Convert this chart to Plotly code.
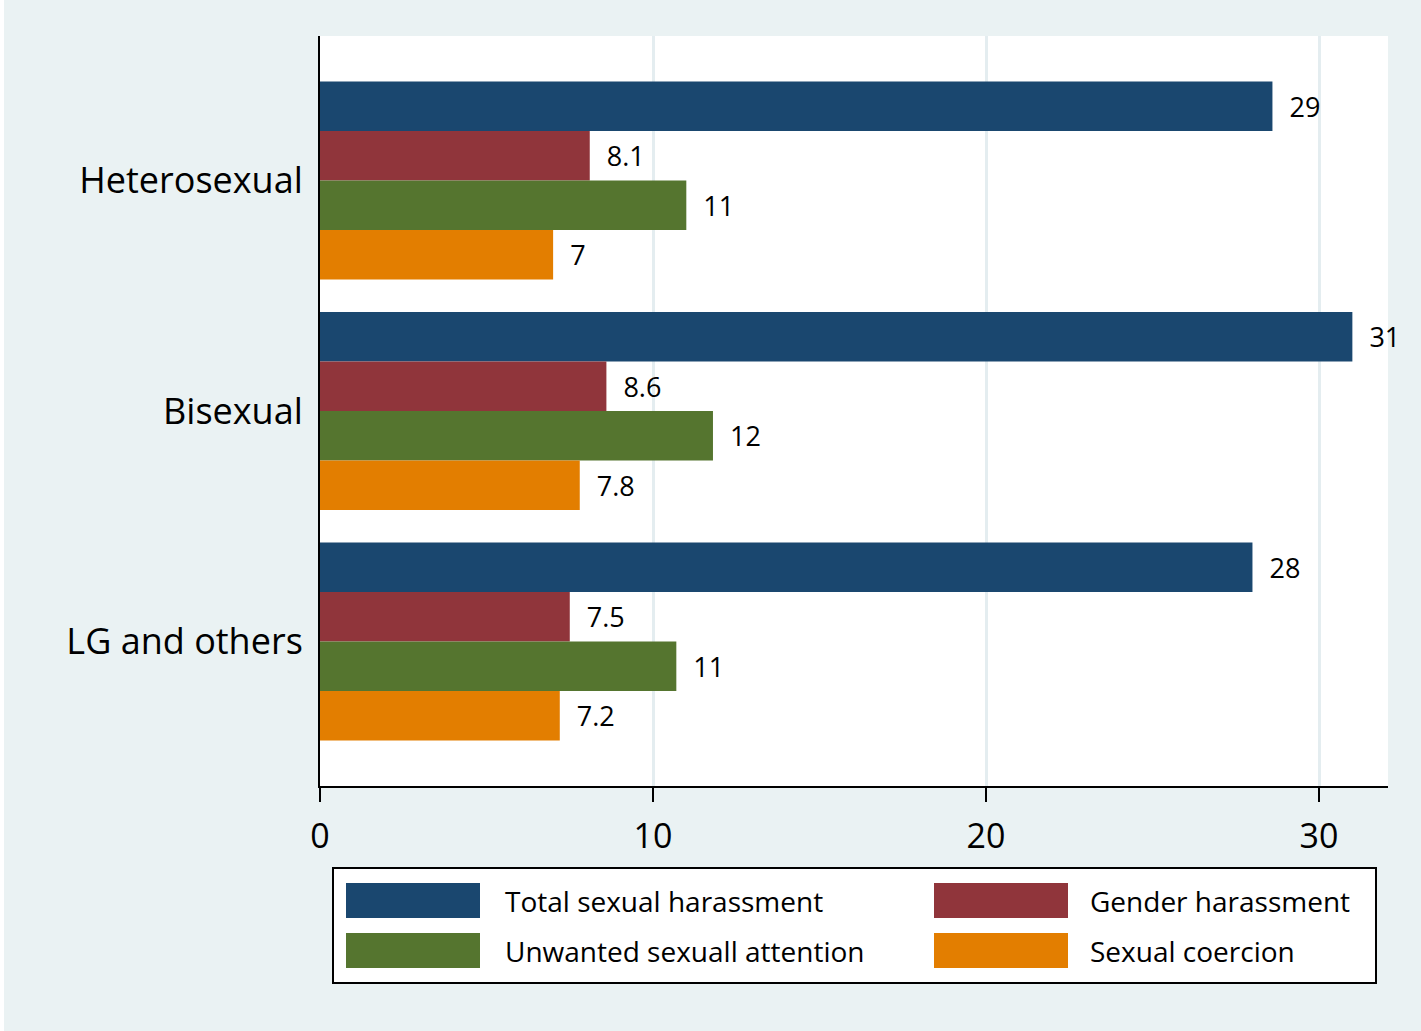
import plotly.graph_objects as go

# ---------------- data ----------------
categories = ["Heterosexual", "Bisexual", "LG and others"]
series_names = ["Total sexual harassment", "Gender harassment",
                "Unwanted sexuall attention", "Sexual coercion"]
total_vals = [28.6, 31.0, 28.0]
gender_vals = [8.1, 8.6, 7.5]
unwanted_vals = [11.0, 11.8, 10.7]
coercion_vals = [7.0, 7.8, 7.2]
total_labels = ["29", "31", "28"]
gender_labels = ["8.1", "8.6", "7.5"]
unwanted_labels = ["11", "12", "11"]
coercion_labels = ["7", "7.8", "7.2"]
x_ticks = [0, 10, 20, 30]

series_values = [total_vals, gender_vals, unwanted_vals, coercion_vals]
series_labels = [total_labels, gender_labels, unwanted_labels, coercion_labels]
colors = ["#1A476F", "#90353B", "#55752F", "#E37E00"]

FONT = "Open Sans"
W, H = 1421, 1031
L, R, T, B = 320, 33, 36, 245
PW, PH = W - L - R, H - T - B


def px(xp):
    return (xp - L) / PW


def py(yp):
    return (H - B - yp) / PH


fig = go.Figure()
for name, vals, labs, col in zip(series_names, series_values, series_labels, colors):
    fig.add_trace(go.Bar(
        y=categories, x=vals, orientation="h", name=name,
        marker=dict(color=col, line=dict(width=0)),
        text=["  " + s for s in labs], textposition="outside",
        textfont=dict(family=FONT, size=27, color="black"),
        cliponaxis=False, constraintext="none", showlegend=False,
        hoverinfo="x+name",
    ))

shapes = []
annotations = []
# manual legend box
shapes.append(dict(type="rect", xref="paper", yref="paper",
                   x0=px(333), x1=px(1376), y0=py(983), y1=py(868),
                   line=dict(color="black", width=2), fillcolor="white", layer="below"))
swatch_cols = [(346, 480, 503), (934, 1068, 1088)]
swatch_rows = [(883, 918), (933, 968)]
for i, (name, col) in enumerate(zip(series_names, colors)):
    c = swatch_cols[i % 2]
    r = swatch_rows[i // 2]
    shapes.append(dict(type="rect", xref="paper", yref="paper",
                       x0=px(c[0]), x1=px(c[1]), y0=py(r[1]), y1=py(r[0]),
                       line=dict(width=0), fillcolor=col))
    annotations.append(dict(xref="paper", yref="paper", x=px(c[2]), y=py((r[0] + r[1]) / 2),
                            text=name, showarrow=False, xanchor="left", yanchor="middle",
                            font=dict(family=FONT, size=28, color="black")))
# white strip at far left of the image
shapes.append(dict(type="rect", xref="paper", yref="paper",
                   x0=px(0), x1=px(4), y0=py(H), y1=py(0),
                   line=dict(width=0), fillcolor="white", layer="below"))

fig.update_layout(
    width=W, height=H,
    margin=dict(l=L, r=R, t=T, b=B, pad=0),
    paper_bgcolor="#EAF2F3", plot_bgcolor="white",
    barmode="group", bargap=0.141, bargroupgap=0,
    shapes=shapes, annotations=annotations,
    showlegend=False,
    font=dict(family=FONT, color="black"),
)
fig.update_xaxes(
    range=[0, 32.07], tickvals=x_ticks, ticktext=[str(v) for v in x_ticks],
    showgrid=True, gridcolor="#E4EDF0", gridwidth=3,
    showline=True, linecolor="black", linewidth=2,
    ticks="outside", ticklen=14, tickwidth=2, tickcolor="black",
    tickfont=dict(family=FONT, size=34, color="black"),
    zeroline=False, ticklabelstandoff=5,
)
fig.update_yaxes(
    type="category", categoryorder="array", categoryarray=categories,
    range=[2.627, -0.627],
    showgrid=False, showline=True, linecolor="black", linewidth=2,
    ticks="", tickfont=dict(family=FONT, size=36, color="black"),
    ticklabelstandoff=8, zeroline=False,
)

fig.write_html("out.html", config={"displayModeBar": False},
               post_script="document.body.style.margin='0';document.body.style.overflow='hidden';")
